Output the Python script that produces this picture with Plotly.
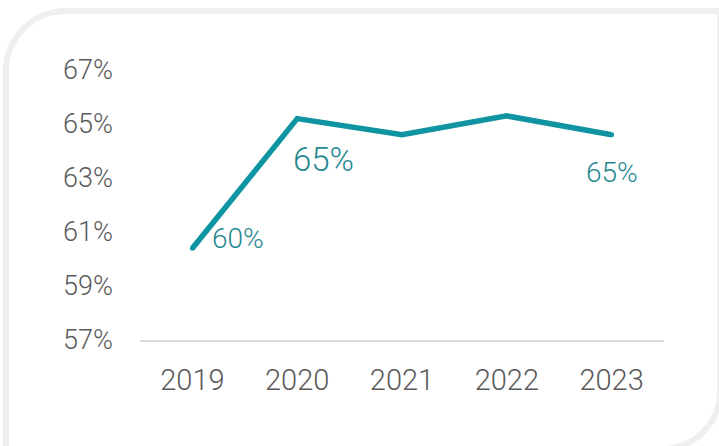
import plotly.graph_objects as go

# Data
years = ["2019", "2020", "2021", "2022", "2023"]
share = [60.4, 65.2, 64.6, 65.3, 64.6]
labelled_years = ["2019", "2020", "2023"]
y_ticks = [57, 59, 61, 63, 65, 67]
y_tick_text = ["57%", "59%", "61%", "63%", "65%", "67%"]

LINE_COLOR = "#0f94a2"
LABEL_COLOR = "#1f8891"
TICK_COLOR = "#5a5a5a"
FONT = "Roboto"

W, H = 719, 446
ML, MR, MT, MB = 140, 55, 70, 106
PW, PH = W - ML - MR, H - MT - MB

fig = go.Figure()
fig.add_trace(go.Scatter(
    x=years, y=share, mode="lines+markers",
    line=dict(color=LINE_COLOR, width=5.5),
    marker=dict(color=LINE_COLOR, size=5),
    hoverinfo="skip", showlegend=False,
))

# value labels: (shift x, shift y, font size)
label_style = {
    "2019": (46, 10, 28),
    "2020": (26, -41, 33),
    "2023": (0, -38, 28),
}
for yr in labelled_years:
    idx = years.index(yr)
    v = share[idx]
    dx, dy, fs = label_style[yr]
    fig.add_annotation(
        x=idx, y=v, text=f"{v:.0f}%", showarrow=False,
        xanchor="center", yanchor="middle", xshift=dx, yshift=dy,
        font=dict(family=FONT, size=fs, color=LABEL_COLOR, weight=300),
    )


def px_to_paper(px, py):
    return (px - ML) / PW, (H - MB - py) / PH


def frame_path():
    r1, r2 = 60, 58
    k1, k2 = 0.5523 * r1, 0.5523 * r2
    left, top, right, bottom = 6, 11, 720, 449
    pts = [
        ("M", [(left, bottom + 5)]),
        ("L", [(left, top + r1)]),
        ("C", [(left, top + r1 - k1), (left + r1 - k1, top), (left + r1, top)]),
        ("L", [(right + 5, top)]),
        ("M", [(right, top)]),
        ("L", [(right, bottom - r2)]),
        ("C", [(right, bottom - r2 + k2), (right - r2 + k2, bottom), (right - r2, bottom)]),
        ("L", [(left, bottom)]),
    ]
    out = []
    for cmd, coords in pts:
        seg = " ".join("%.5f,%.5f" % px_to_paper(x, y) for x, y in coords)
        out.append(f"{cmd} {seg}")
    return " ".join(out)


fig.add_shape(
    type="path", path=frame_path(), xref="paper", yref="paper",
    line=dict(color="#efefef", width=6), fillcolor="rgba(0,0,0,0)", layer="below",
)

fig.update_layout(
    width=W, height=H,
    margin=dict(l=ML, r=MR, t=MT, b=MB, pad=0),
    paper_bgcolor="white", plot_bgcolor="white",
    showlegend=False,
    xaxis=dict(
        type="category", showgrid=False, zeroline=False,
        showline=True, linecolor="#d9d9d9", linewidth=2,
        ticks="", ticklabelstandoff=13,
        tickfont=dict(family=FONT, size=29, color=TICK_COLOR, weight=300),
        range=[-0.5, 4.5],
    ),
    yaxis=dict(
        range=[57, 67], tickvals=y_ticks, ticktext=y_tick_text,
        showgrid=False, zeroline=False, showline=False,
        ticks="", ticklabelstandoff=26,
        tickfont=dict(family=FONT, size=27, color=TICK_COLOR, weight=300),
    ),
)

fig.write_html("out.html")
